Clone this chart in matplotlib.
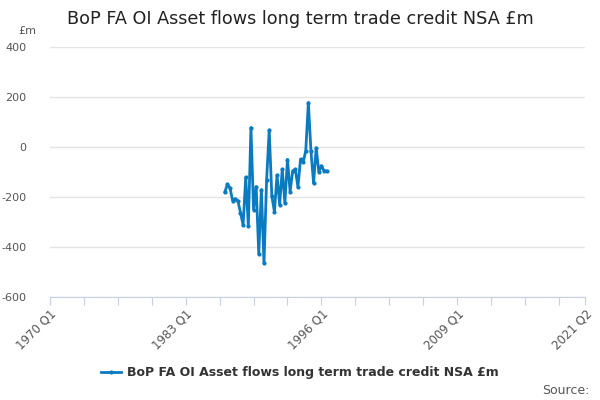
import numpy as np
import matplotlib
matplotlib.use("Agg")
import matplotlib.pyplot as plt

# quarters are counted from 1970 Q1 (index 0)
start_idx = 67
values = [-180, -149, -165, -215, -207, -215, -263, -312, -121, -316,
          78, -250, -158, -428, -171, -465, -132, 68, -197, -259,
          -112, -230, -89, -224, -50, -178, -96, -89, -160, -49,
          -61, -16, 178, -17, -145, -3, -99, -75, -95, -96]
tick_pos = list(range(0, 196, 13)) + [205]
label_pos = [0, 52, 104, 156, 205]
label_text = ["1970 Q1", "1983 Q1", "1996 Q1", "2009 Q1", "2021 Q2"]
yticks = [-600, -400, -200, 0, 200, 400]

series_name = "BoP FA OI Asset flows long term trade credit NSA £m"
blue = "#0b7bc1"

fig = plt.figure(figsize=(6, 4), dpi=100)
ax = fig.add_axes([0.0833, 0.2575, 0.8917, 0.625])

x = np.arange(start_idx, start_idx + len(values))
ax.plot(x, values, color=blue, linewidth=2, marker="o", markersize=2,
        label=series_name)

ax.set_xlim(0, 205)
ax.set_ylim(-600, 400)
ax.set_yticks(yticks)
ax.set_yticklabels([str(v) for v in yticks], fontsize=8, color="#555555")
ax.grid(axis="y", color="#e3e3e3", linewidth=1)
ax.set_axisbelow(True)

ax.set_xticks(tick_pos)
ax.set_xticklabels(["" for _ in tick_pos])
for p, t in zip(label_pos, label_text):
    ax.text(p, -640, t, rotation=45, ha="right", va="top", fontsize=8.5,
            color="#555555", rotation_mode="anchor")

for s in ["top", "right", "left"]:
    ax.spines[s].set_visible(False)
ax.spines["bottom"].set_color("#c5d0e3")
ax.tick_params(axis="x", length=6, color="#c5d0e3")
ax.tick_params(axis="y", length=0, pad=17)

fig.text(0.5, 0.952, series_name, ha="center", va="center", fontsize=12.7,
         color="#222222")
fig.text(0.03, 0.922, "£m", fontsize=8, color="#555555", va="center")

fig.legend(loc="center", bbox_to_anchor=(0.5, 0.068), frameon=False,
           prop={"size": 9, "weight": "bold"}, labelcolor="#333333",
           handlelength=1.6, handletextpad=0.5)
fig.text(0.982, 0.025, "Source:", ha="right", va="center", fontsize=9,
         color="#555555")

fig.savefig("out.png", dpi=100)
